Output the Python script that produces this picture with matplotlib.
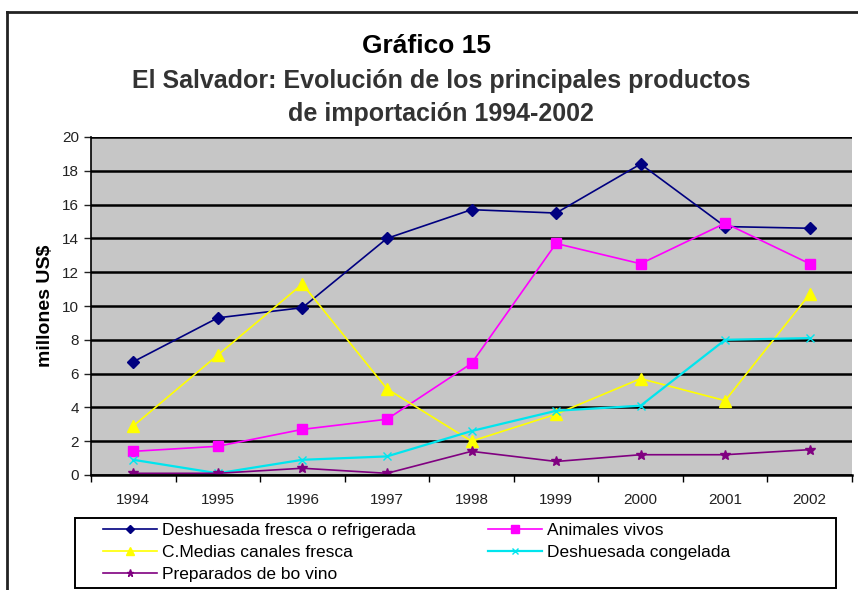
import numpy as np
import matplotlib.pyplot as plt
from matplotlib.lines import Line2D
from matplotlib.patches import Rectangle

plt.rcParams['font.family'] = ['Liberation Sans', 'DejaVu Sans']

years = ['1994', '1995', '1996', '1997', '1998', '1999', '2000', '2001', '2002']

deshuesada_fresca = [6.7, 9.3, 9.9, 14.0, 15.7, 15.5, 18.4, 14.7, 14.6]
animales_vivos = [1.4, 1.7, 2.7, 3.3, 6.6, 13.7, 12.5, 14.9, 12.5]
medias_canales = [2.9, 7.1, 11.3, 5.1, 2.0, 3.6, 5.7, 4.4, 10.7]
deshuesada_congelada = [0.9, 0.1, 0.9, 1.1, 2.6, 3.8, 4.1, 8.0, 8.1]
preparados = [0.1, 0.1, 0.4, 0.1, 1.4, 0.8, 1.2, 1.2, 1.5]

x = np.arange(len(years))

fig = plt.figure(figsize=(8.58, 5.90), dpi=100)
ax = fig.add_axes([91 / 858, 115 / 590, 761 / 858, 338 / 590])
ax.set_facecolor('#c6c6c6')

l1, = ax.plot(x, deshuesada_fresca, color='#000080', marker='D', markersize=6,
              lw=1.2, label='Deshuesada fresca o refrigerada')
l2, = ax.plot(x, animales_vivos, color='#ff00ff', marker='s', markersize=7,
              lw=1.2, label='Animales vivos')
l3, = ax.plot(x, medias_canales, color='#ffff00', marker='^', markersize=8,
              lw=1.2, label='C.Medias canales fresca')
l4, = ax.plot(x, deshuesada_congelada, color='#00e5ee', marker='x', markersize=6,
              lw=1.6, label='Deshuesada congelada')
l5, = ax.plot(x, preparados, color='#800080', marker='*', markersize=7,
              lw=1.2, label='Preparados de bo vino')

ax.set_xlim(-0.5, 8.5)
ax.set_ylim(0, 20)
ax.set_yticks(np.arange(0, 21, 2))
ax.set_xticks(x)
ax.set_xticklabels(years)
ax.set_xticks(np.arange(-0.5, 9, 1), minor=True)
ax.tick_params(axis='x', which='major', length=0, pad=13, labelsize=11, colors='#222222')
ax.tick_params(axis='x', which='minor', length=5, width=1, color='black')
ax.tick_params(axis='y', length=5, width=1, labelsize=11, colors='#222222')
ax.grid(axis='y', color='black', lw=1.8)
ax.set_axisbelow(True)
for side in ['top', 'right']:
    ax.spines[side].set_visible(False)
ax.spines['left'].set_linewidth(1.2)
ax.spines['bottom'].set_linewidth(1.8)

ax.set_ylabel('millones US$', fontsize=14, fontweight='bold', labelpad=6)

fig.text(0.497, 0.922, 'Gráfico 15', ha='center', va='center',
         fontsize=19, fontweight='bold', color='black')
fig.text(0.514, 0.863, 'El Salvador: Evolución de los principales productos',
         ha='center', va='center', fontsize=18, fontweight='bold', color='#333333')
fig.text(0.514, 0.806, 'de importación 1994-2002', ha='center', va='center',
         fontsize=18, fontweight='bold', color='#333333')

# leyenda: marco aparte y dos columnas
fig.add_artist(Rectangle((75 / 858, 2 / 590), 761 / 858, 70 / 590,
                         transform=fig.transFigure, fill=False,
                         edgecolor='black', lw=1.4))
leg_kw = dict(loc='upper left', fontsize=12.5, frameon=False, borderpad=0,
              borderaxespad=0, handlelength=3.1, handletextpad=0.3,
              labelspacing=0.38, markerscale=0.75)
leg1 = fig.legend(handles=[l1, l3, l5], bbox_to_anchor=(103 / 858, 1 - 523 / 590),
                  **leg_kw)
leg2 = fig.legend(handles=[l2, l4], bbox_to_anchor=(488 / 858, 1 - 523 / 590),
                  **leg_kw)

# marco exterior
fig.add_artist(Line2D([7 / 858, 7 / 858], [0, 1 - 12 / 590], color='#222222', lw=2))
fig.add_artist(Line2D([7 / 858, 1], [1 - 12 / 590, 1 - 12 / 590], color='#222222', lw=2))

fig.savefig('out.png', dpi=100)
